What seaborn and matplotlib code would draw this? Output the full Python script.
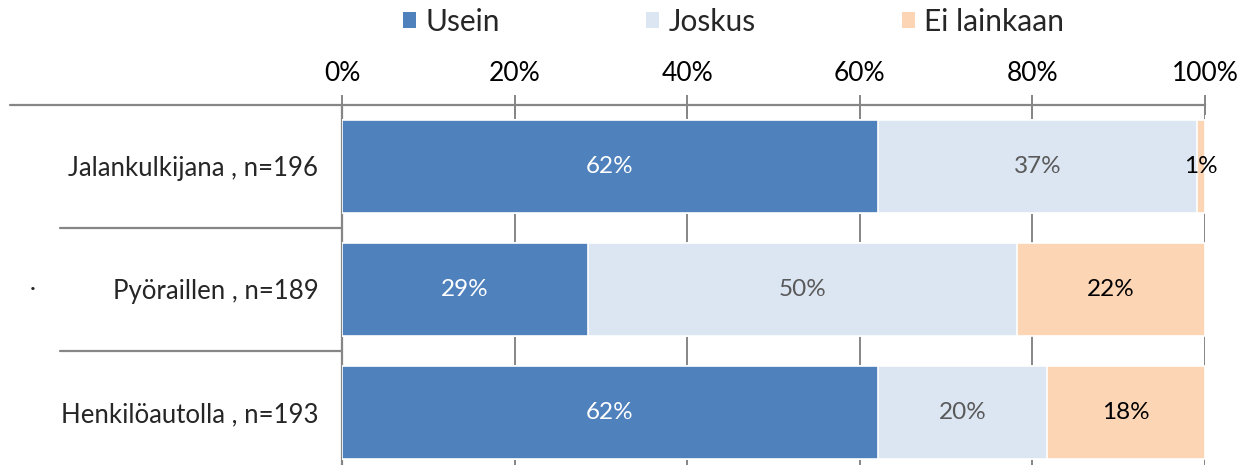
import matplotlib
matplotlib.use("Agg")
import matplotlib.pyplot as plt
import matplotlib.patches as mpatches
import numpy as np
import pandas as pd
import seaborn as sns

# data
categories = ["Jalankulkijana , n=196", "Pyöraillen , n=189", "Henkilöautolla , n=193"]
series_names = ["Usein", "Joskus", "Ei lainkaan"]
usein = [62.1, 28.5, 62.1]
joskus = [37.0, 49.7, 19.6]
ei_lainkaan = [0.9, 21.8, 18.3]
usein_labels = ["62%", "29%", "62%"]
joskus_labels = ["37%", "50%", "20%"]
ei_labels = ["1%", "22%", "18%"]
tick_values = [0, 20, 40, 60, 80, 100]
tick_labels = ["0%", "20%", "40%", "60%", "80%", "100%"]

colors = ["#4F81BD", "#DCE6F2", "#FCD5B5"]
text_colors = ["white", "#595959", "black"]

sns.set_style("white")
plt.rcParams["font.family"] = ["Lato", "DejaVu Sans"]

df = pd.DataFrame({"kategoria": categories, "Usein": usein,
                   "Joskus": joskus, "Ei lainkaan": ei_lainkaan})
cum = df[series_names].cumsum(axis=1)
starts = cum - df[series_names]

fig = plt.figure(figsize=(12.38, 4.65), dpi=100)
ax = fig.add_axes([0.2763, -0.0183, 0.697, 0.7925])

# stacked bars: draw cumulative totals from the last series backwards
for name, color in reversed(list(zip(series_names, colors))):
    sns.barplot(data=cum, x=name, y=df["kategoria"], orient="h", color=color,
                width=0.756, edgecolor="white", linewidth=1.2, ax=ax,
                saturation=1, zorder=3)

# segment labels
label_sets = [usein_labels, joskus_labels, ei_labels]
for j, name in enumerate(series_names):
    for i in range(len(categories)):
        mid = starts.loc[i, name] + df.loc[i, name] / 2
        ax.text(mid, i, label_sets[j][i], ha="center", va="center",
                fontsize=17.5, color=text_colors[j], zorder=5)

ax.set_xlim(0, 100)
ax.set_ylim(2.5, -0.5)
ax.xaxis.tick_top()
ax.set_xticks(tick_values)
ax.set_xticklabels(tick_labels, fontsize=19, color="black")
ax.tick_params(axis="x", direction="inout", length=14, width=1.4,
               color="#868686", pad=7)
ax.tick_params(axis="y", length=0, pad=17, labelsize=18.5)
ax.set_xlabel("")
ax.set_ylabel("")
ax.grid(axis="x", color="#868686", linewidth=1.4, zorder=0)
ax.set_axisbelow(True)

for side in ["right", "bottom"]:
    ax.spines[side].set_visible(False)
for side in ["top", "left"]:
    ax.spines[side].set_color("#868686")
    ax.spines[side].set_linewidth(1.6)

# category separator lines to the left of the axis
trans = ax.get_yaxis_transform()
ax.plot([-0.385, 0], [-0.5, -0.5], transform=trans, color="#868686",
        linewidth=1.6, clip_on=False)
for yv in [0.5, 1.5]:
    ax.plot([-0.327, 0], [yv, yv], transform=trans, color="#868686",
            linewidth=1.6, clip_on=False)

fig.text(0.026, 0.378, "·", fontsize=16, ha="center", va="center")

handles = [mpatches.Patch(facecolor=c, edgecolor="none", label=n)
           for n, c in zip(series_names, colors)]
fig.legend(handles=handles, loc="center", bbox_to_anchor=(0.5925, 0.953), ncol=3,
           frameon=False, fontsize=21.5, handlelength=0.45, handleheight=0.45,
           handletextpad=0.3, columnspacing=4.9)

fig.savefig("out.png", dpi=100)
